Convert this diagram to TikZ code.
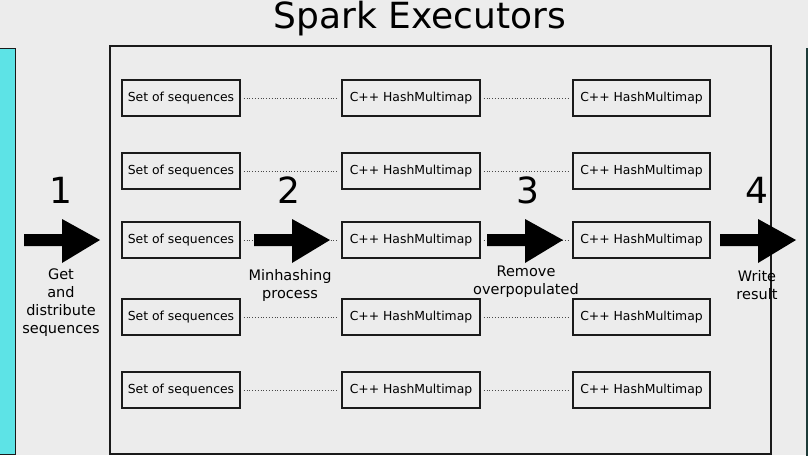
\documentclass[tikz,border=0pt]{standalone}
\usepackage{fontspec}
\setmainfont{DejaVu Sans}
\usetikzlibrary{calc}
\definecolor{bgGray}{HTML}{ECECEC}
\definecolor{stripCyan}{HTML}{5DE3E6}
\definecolor{stripDark}{HTML}{1E3B38}
\definecolor{lineDark}{HTML}{1A1A1A}
\tikzset{
  cell/.style={draw=lineDark,line width=1.4pt,minimum height=36pt,inner sep=0pt,font=\fontsize{12.4}{14}\selectfont},
  link/.style={dotted,line width=0.8pt,color=lineDark!80,shorten <=3pt,shorten >=3pt},
  stepnum/.style={anchor=base,inner sep=0pt,font=\fontsize{36}{40}\selectfont},
  steptext/.style={anchor=north,align=center,font=\fontsize{14.5}{18}\selectfont}
}
\newcommand{\BlockArrow}[1]{\fill[black] (#1,234) -- ++(38,0) -- ++(0,-15) -- ++(38,21) -- ++(-38,23) -- ++(0,-17) -- ++(-38,0) -- cycle;}

\begin{document}
\begin{tikzpicture}[x=1pt,y=-1pt]
\useasboundingbox[fill=bgGray] (0,0) rectangle (808,455);

% side strips
\fill[stripCyan,draw=lineDark,line width=1pt] (-5,48) rectangle (15,454);
\fill[stripDark] (806,48) rectangle (815,460);

% executors frame
\node[stepnum] (title) at (420,28) {Spark Executors};
\draw[lineDark,line width=1.4pt] (110,46) rectangle (771,454);

% rows of maps
\foreach \r/\y in {1/98,2/171,3/240,4/317,5/390}{
  \node[cell,minimum width=118pt] (set\r) at (181,\y) {Set of sequences};
  \node[cell,minimum width=138pt] (mapA\r) at (411,\y) {C++ HashMultimap};
  \node[cell,minimum width=137pt] (mapB\r) at (641.5,\y) {C++ HashMultimap};
  \draw[link] (set\r.east) -- (mapA\r.west);
  \draw[link] (mapA\r.east) -- (mapB\r.west);
}

% steps
\BlockArrow{24}
\BlockArrow{254}
\BlockArrow{487}
\BlockArrow{720}
\node[stepnum] (num1) at (61,203) {1};
\node[stepnum] (num2) at (289,203) {2};
\node[stepnum] (num3) at (528,203) {3};
\node[stepnum] (num4) at (757,203) {4};
\node[steptext] (lab1) at (61,265) {Get\\and\\distribute\\sequences};
\node[steptext] (lab2) at (290,266) {Minhashing\\process};
\node[steptext] (lab3) at (526,262) {Remove\\overpopulated};
\node[steptext] (lab4) at (757,267) {Write\\result};
\end{tikzpicture}
\end{document}
